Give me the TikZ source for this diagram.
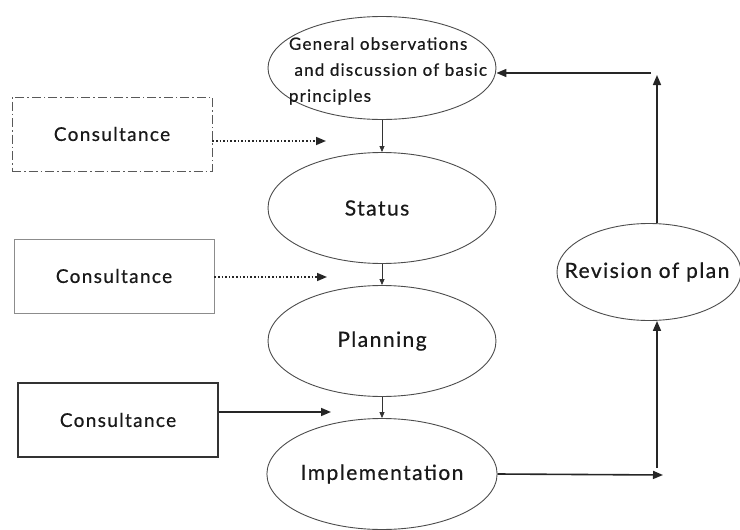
\documentclass[tikz,border=0pt]{standalone}
\usepackage{fontspec}
\setmainfont{Lato}[LetterSpace=7,FakeBold=0.6]
\usetikzlibrary{shapes.geometric,arrows.meta}
\begin{document}
\begin{tikzpicture}[x=1pt,y=-1pt,
  oval/.style={draw=black!70, line width=0.9pt, ellipse, inner sep=0pt},
  midoval/.style={oval, minimum width=228pt, minimum height=111pt},
  lbl/.style={font=\fontsize{21}{24}\selectfont, text=black!90},
  consbox/.style={minimum width=200pt, minimum height=74pt, inner sep=0pt, font=\fontsize{19}{22}\selectfont, text=black!90},
  conn/.style={line width=1.6pt, draw=black!85, -{Triangle[length=10pt,width=8pt]}},
  dotconn/.style={conn, dotted},
  smallconn/.style={line width=0.8pt, draw=black!80, -{Triangle[length=6pt,width=5pt]}}
]
\useasboundingbox (0,0) rectangle (740,530);

% left column ellipses
\node[oval, minimum width=228pt, minimum height=103pt] (gen) at (382,68) {};
\node[align=left, font=\fontsize{17}{26}\selectfont, text=black!90, inner sep=0pt] (gentext) at (388,71) {General observations\\ \ and discussion of basic\\principles};
\node[midoval, lbl] (status) at (382,208) {\hspace*{-10pt}Status};
\node[midoval, lbl] (planning) at (382,341) {Planning};
\node[midoval, lbl] (impl) at (382,474) {Implementation};

% revision ellipse
\node[oval, minimum width=184pt, minimum height=97pt] (rev) at (649,272) {};
\node[lbl, inner sep=0pt] (revtext) at (647,272) {Revision of plan};

% consultance boxes
\node[consbox, draw=black!65, line width=0.9pt, dash pattern=on 9pt off 3pt on 1.5pt off 3pt] (c1) at (112,134) {Consultance};
\node[consbox, draw=black!45, line width=0.9pt] (c2) at (114,276) {Consultance};
\node[consbox, draw=black!80, line width=1.1pt] (c3) at (118,420) {Consultance};

% free ends
\coordinate (e1) at (326,141);
\coordinate (e2) at (327,277);
\coordinate (e3) at (331,412);
\coordinate (col) at (657,0);
\coordinate (corner) at (663,475);
\coordinate (upstart) at (657,468);
\coordinate (top) at (657,75);
\coordinate (back) at (651,73);

% connectors
\draw[dotconn] (c1.east |- e1) -- (e1);
\draw[dotconn] (c2.east |- e2) -- (e2);
\draw[conn] (c3.east |- e3) -- (e3);

\draw[smallconn] (gen.south) -- (status.north);
\draw[smallconn] (status.south) -- (planning.north);
\draw[smallconn] (planning.south) -- (impl.north);

\draw[conn] (impl.east) -- (corner);
\draw[conn] (upstart) -- (rev.south -| col);
\draw[conn] (rev.north -| col) -- (top);
\draw[conn] (back) -- (gen.east |- back);
\end{tikzpicture}
\end{document}
